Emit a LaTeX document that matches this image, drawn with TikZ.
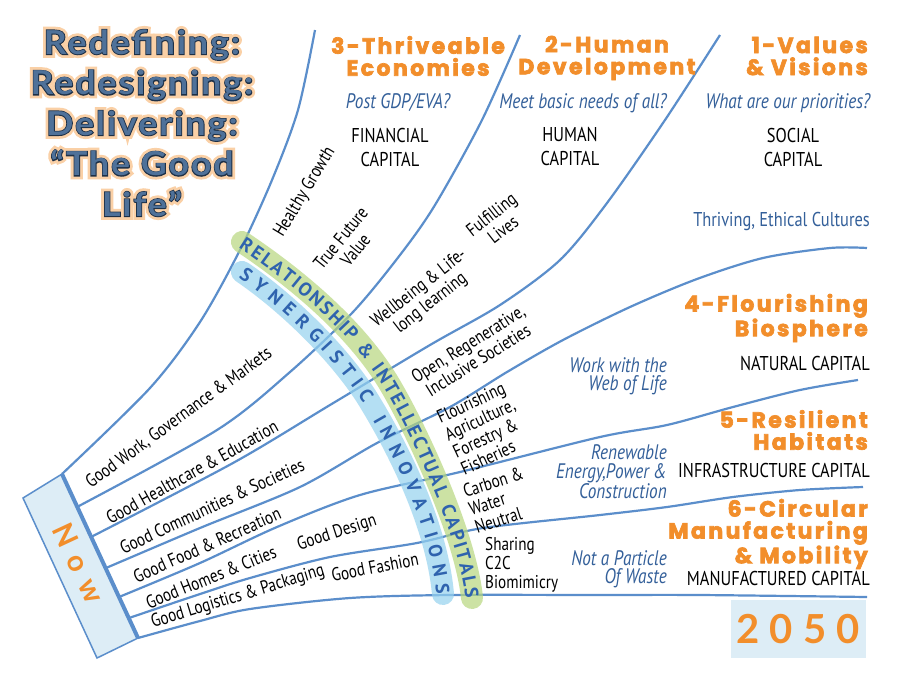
\documentclass[tikz,border=0pt]{standalone}
\usepackage{fontspec}
\newfontfamily\bodyfont{PT Sans}[FakeStretch=0.82]
\newfontfamily\curvefont{PT Sans}
\newfontfamily\headfont{Poppins}[LetterSpace=11,FakeBold=3]
\newfontfamily\titlefont{Lato}[FakeStretch=1.08,LetterSpace=6]
\newfontfamily\titleglow{Lato}[FakeStretch=1.08,LetterSpace=6,FakeBold=22]
\newfontfamily\titleedge{Lato}[FakeStretch=1.08,LetterSpace=6,FakeBold=5]
\newfontfamily\numfont{Lato}[LetterSpace=25]
\usetikzlibrary{decorations.text}
\definecolor{lineBlue}{HTML}{5B8ECB}
\definecolor{nowFill}{HTML}{DDEDF6}
\definecolor{askBlue}{HTML}{34609A}
\definecolor{headOrange}{HTML}{F28E2B}
\definecolor{titleBlue}{HTML}{4F7199}
\definecolor{titleDark}{HTML}{1D3047}
\definecolor{glowOrange}{HTML}{FAD0A6}
\definecolor{bandGreen}{HTML}{B7D77E}
\definecolor{bandBlue}{HTML}{95D2EF}
\definecolor{curveBlue}{HTML}{2F63AE}
\newcommand{\goodlife}{Redefining:\\Redesigning:\\Delivering:\\“The Good\\Life”}

\begin{document}
\begin{tikzpicture}[x=1pt,y=-1pt,
  flow/.style={draw=lineBlue,line width=2.2pt},
  head/.style={font=\headfont\bfseries\fontsize{22}{22}\selectfont,text=headOrange,inner sep=0pt},
  capital/.style={font=\bodyfont\fontsize{20}{24}\selectfont,inner sep=0pt,align=center},
  ask/.style={font=\bodyfont\itshape\fontsize{21}{18.5}\selectfont,text=askBlue,inner sep=0pt},
  good/.style={font=\bodyfont\fontsize{18.5}{19}\selectfont,inner sep=0pt},
  title/.style={font=#1\bfseries\fontsize{33}{40.5}\selectfont,align=center,inner sep=0pt},
  band/.style={line width=22pt,line cap=round,opacity=.7}]
\useasboundingbox (0,0) rectangle (899,675);
\fill[white] (0,0) rectangle (899,675);

% the fan from now to 2050
\draw[flow] plot[smooth] coordinates {(62,474) (150,388) (200,322) (240,250) (272,180) (298,110) (315,30)};
\draw[flow] plot[smooth] coordinates {(77,507) (217,430) (290,372) (353,312) (400,255) (435,205) (482,120) (520,35)};
\draw[flow] plot[smooth] coordinates {(91,537) (233,463) (330,405) (430,345) (500,305) (560,260) (607,203) (665,120) (720,35)};
\draw[flow] plot[smooth] coordinates {(106,568) (200,528) (300,487) (377,443) (450,407) (507,372) (563,340) (630,307) (697,279) (763,258) (830,248) (867,248)};
\draw[flow] plot[smooth] coordinates {(119,597) (200,563) (277,527) (360,495) (460,472) (600,437) (667,425) (733,407) (800,390) (858,380)};
\draw[flow] plot[smooth] coordinates {(129,618) (200,594) (250,578) (330,557) (417,543) (483,528) (600,515) (667,507) (733,497) (800,490) (863,487)};
\draw[flow] plot[smooth] coordinates {(138,638) (200,621) (250,609) (350,598) (450,595) (600,595) (700,595) (867,597)};

% now bar
\filldraw[fill=nowFill,draw=lineBlue,line width=1.5pt] (23,498) -- (62,474) -- (138,638) -- (97,658) -- cycle;
\draw[lineBlue,line width=4pt] (62,474) -- (138,638);
\node[font=\numfont\bfseries\fontsize{29}{29}\selectfont,text=headOrange,rotate=-65,inner sep=0pt] (now) at (79,563) {N\hspace{11pt}o\hspace{11pt}w};

% glowing bands
\draw[band,bandGreen] (242,242) .. controls (305,284) and (360,334) .. (390,385) .. controls (420,436) and (466,538) .. (472,598);
\draw[band,bandBlue] (242,272) .. controls (286,302) and (336,350) .. (366,396) .. controls (391,436) and (436,518) .. (443,594);
\path[decorate,decoration={text along path,raise=-6.5pt,text align={fit to path},text color=curveBlue,
  text={|\curvefont\bfseries\fontsize{19}{19}\selectfont|RELATIONSHIP {\&} INTELLECTUAL CAPITALS}}]
  (242,242) .. controls (305,284) and (360,334) .. (390,385) .. controls (420,436) and (466,538) .. (472,598);
\path[decorate,decoration={text along path,raise=-6.5pt,text align={fit to path},text color=curveBlue,
  text={|\curvefont\bfseries\fontsize{19}{19}\selectfont|SYNERGISTIC INNOVATIONS}}]
  (242,272) .. controls (286,302) and (336,350) .. (366,396) .. controls (391,436) and (436,518) .. (443,594);

% outcomes
\node[head,align=center] (econ) at (418,56) {3-Thriveable\\Economies};
\node[head,align=center] (human) at (607,58) {2-Human\\Development};
\node[head,align=right,anchor=east] (values) at (868,56) {1-Values\\\& Visions};
\node[head,align=right,anchor=east] (bio) at (868,318) {4-Flourishing\\Biosphere};
\node[head,align=right,anchor=east] (habit) at (868,430) {5-Resilient\\Habitats};
\node[head,align=right,anchor=east] (circ) at (868,534) {6-Circular\\Manufacturing\\\& Mobility};

\node[ask] (post) at (398,103) {Post GDP/EVA?};
\node[ask] (meet) at (583,103) {Meet basic needs of all?};
\node[ask] (prio) at (788,103) {What are our priorities?};
\node[ask,font=\bodyfont\fontsize{20}{20}\selectfont,anchor=east] (thrive) at (870,221) {Thriving, Ethical Cultures};
\node[ask,align=right,anchor=east] (web) at (667,376) {Work with the\\Web of Life};
\node[ask,align=right,anchor=east] (renew) at (667,472) {Renewable\\Energy,Power \&\\Construction};
\node[ask,align=right,anchor=east] (waste) at (667,569) {Not a Particle\\Of Waste};

\node[capital] (fin) at (390,147) {FINANCIAL\\CAPITAL};
\node[capital] (humcap) at (570,147) {HUMAN\\CAPITAL};
\node[capital] (soc) at (793,147) {SOCIAL\\CAPITAL};
\node[capital,anchor=east] (nat) at (870,363) {NATURAL CAPITAL};
\node[capital,anchor=east] (infra) at (870,470) {INFRASTRUCTURE CAPITAL};
\node[capital,anchor=east] (manu) at (870,578) {MANUFACTURED CAPITAL};

% along the fan
\node[good,rotate=59] (healthy) at (305,192) {Healthy Growth};
\node[good,rotate=51,align=center] (future) at (348,244) {True Future\\Value};
\node[good,rotate=38,align=center] (fulfil) at (497,222) {Fulfilling\\Lives};
\node[good,rotate=38,align=center] (wellb) at (425,296) {Wellbeing \& Life-\\long learning};
\node[good,rotate=32,align=center] (openreg) at (473,352) {Open, Regenerative,\\Inclusive Societies};
\node[good,rotate=25,align=left] (flour) at (484,428) {Flourishing\\Agriculture,\\Forestry \&\\Fisheries};
\node[good,rotate=18,align=left] (carbon) at (499,500) {Carbon \&\\Water\\Neutral};
\node[good,align=left,anchor=west] (sharing) at (485,565) {Sharing\\C2C\\Biomimicry};

\node[good,rotate=36] (work) at (179,418) {Good Work, Governance \& Markets};
\node[good,rotate=29] (health) at (192,472) {Good Healthcare \& Education};
\node[good,rotate=25] (commun) at (212,506) {Good Communities \& Societies};
\node[good,rotate=24] (food) at (207,545) {Good Food \& Recreation};
\node[good,rotate=22] (homes) at (211,577) {Good Homes \& Cities};
\node[good,rotate=18] (design) at (337,533) {Good Design};
\node[good,rotate=17] (logist) at (238,597) {Good Logistics \& Packaging};
\node[good,rotate=11] (fashion) at (375,567) {Good Fashion};

% 2050
\node[fill=nowFill,minimum width=135pt,minimum height=58pt,inner sep=0pt,
  font=\numfont\bfseries\fontsize{40}{40}\selectfont,text=headOrange] (year) at (798,629) {2050};

% title with glow
\node[title=\titleglow,text=glowOrange] (glow) at (142,123) {\goodlife};
\node[title=\titleedge,text=titleDark] (edge) at (142,123) {\goodlife};
\node[title=\titlefont,text=titleBlue] (title) at (142,123) {\goodlife};
\end{tikzpicture}
\end{document}
